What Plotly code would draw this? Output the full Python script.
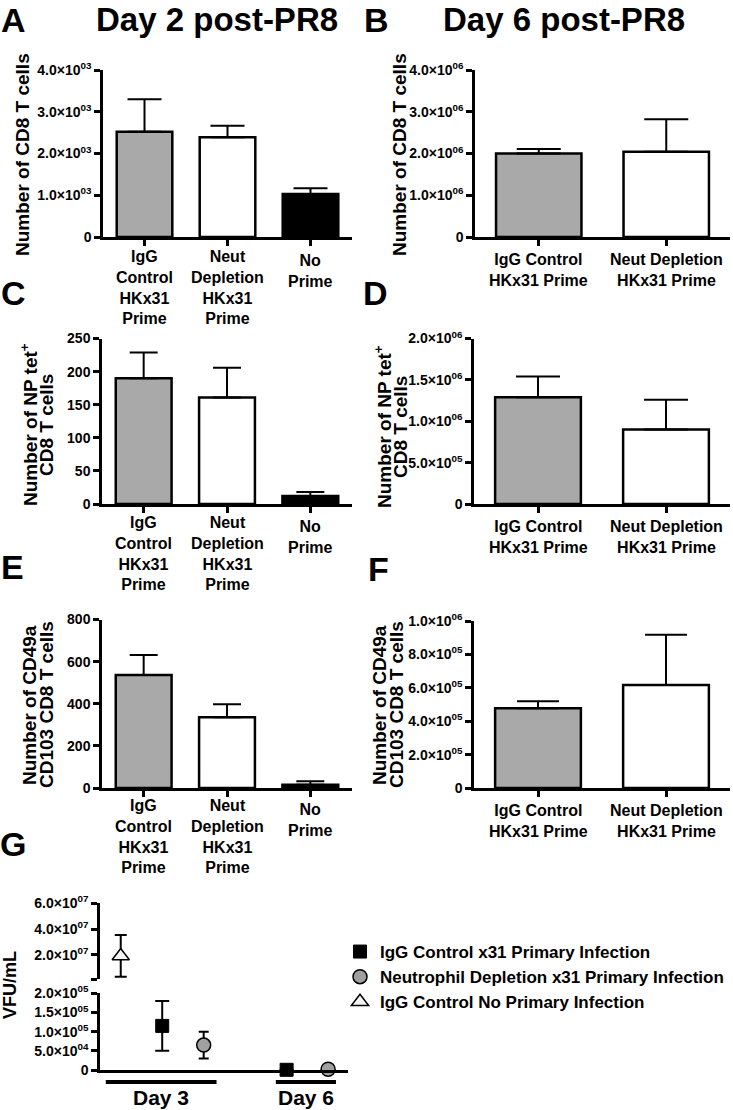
import plotly.graph_objects as go

W, H = 733, 1110
FONT = "Liberation Sans, Arial, Helvetica, sans-serif"

# ---------------- data ----------------
day2_categories = ["IgG<br>Control<br>HKx31<br>Prime", "Neut<br>Depletion<br>HKx31<br>Prime", "No<br>Prime"]
day6_categories = ["IgG Control<br>HKx31 Prime", "Neut Depletion<br>HKx31 Prime"]
day2_colors = ["#a9a9a9", "#ffffff", "#000000"]
day6_colors = ["#a9a9a9", "#ffffff"]

# panel A: Number of CD8 T cells, day 2
a_mean = [2520, 2390, 1030]
a_err_top = [3300, 2665, 1165]
a_ticks = [0, 1000, 2000, 3000, 4000]
a_ticktext = ["0", "1.0×10<sup>03</sup>", "2.0×10<sup>03</sup>", "3.0×10<sup>03</sup>", "4.0×10<sup>03</sup>"]

# panel B: Number of CD8 T cells, day 6
b_mean = [2.00e6, 2.04e6]
b_err_top = [2.11e6, 2.82e6]
b_ticks = [0, 1e6, 2e6, 3e6, 4e6]
b_ticktext = ["0", "1.0×10<sup>06</sup>", "2.0×10<sup>06</sup>", "3.0×10<sup>06</sup>", "4.0×10<sup>06</sup>"]

# panel C: NP tet+ CD8 T cells, day 2
c_mean = [190, 161, 12]
c_err_top = [229, 206, 18]
c_ticks = [0, 50, 100, 150, 200, 250]
c_ticktext = ["0", "50", "100", "150", "200", "250"]

# panel D: NP tet+ CD8 T cells, day 6
d_mean = [1.29e6, 0.90e6]
d_err_top = [1.54e6, 1.26e6]
d_ticks = [0, 5e5, 1e6, 1.5e6, 2e6]
d_ticktext = ["0", "5.0×10<sup>05</sup>", "1.0×10<sup>06</sup>", "1.5×10<sup>06</sup>", "2.0×10<sup>06</sup>"]

# panel E: CD49a CD103 CD8 T cells, day 2
e_mean = [536, 336, 16]
e_err_top = [631, 398, 32]
e_ticks = [0, 200, 400, 600, 800]
e_ticktext = ["0", "200", "400", "600", "800"]

# panel F: CD49a CD103 CD8 T cells, day 6
f_mean = [0.478e6, 0.617e6]
f_err_top = [0.520e6, 0.918e6]
f_ticks = [0, 2e5, 4e5, 6e5, 8e5, 1e6]
f_ticktext = ["0", "2.0×10<sup>05</sup>", "4.0×10<sup>05</sup>", "6.0×10<sup>05</sup>",
              "8.0×10<sup>05</sup>", "1.0×10<sup>06</sup>"]

# panel G: VFU/mL
g_days = ["Day 3", "Day 6"]
g_series = ["IgG Control x31 Primary Infection",
            "Neutrophil Depletion x31 Primary Infection",
            "IgG Control No Primary Infection"]
g_sq_mean = [1.15e5, 500]
g_sq_sd = [6.5e4, 0]
g_ci_mean = [6.5e4, 2000]
g_ci_sd = [3.5e4, 1500]
g_tri_mean = [1.92e7, None]
g_tri_sd = [1.62e7, None]
g_upper_ticks = [2e7, 4e7, 6e7]
g_upper_ticktext = ["2.0×10<sup>07</sup>", "4.0×10<sup>07</sup>", "6.0×10<sup>07</sup>"]
g_lower_ticks = [0, 5e4, 1e5, 1.5e5, 2e5]
g_lower_ticktext = ["0", "5.0×10<sup>04</sup>", "1.0×10<sup>05</sup>", "1.5×10<sup>05</sup>", "2.0×10<sup>05</sup>"]

# ---------------- layout helpers ----------------
def xd(l, r):
    return [l / W, r / W]

def yd(t, b):
    return [1 - b / H, 1 - t / H]

def px(x):
    return x / W

def py(y):
    return 1 - y / H

TICK_SIZE = 14

fig = go.Figure()
layout = dict(
    width=W, height=H, margin=dict(l=0, r=0, t=0, b=0, autoexpand=False),
    paper_bgcolor="white", plot_bgcolor="white",
    font=dict(family=FONT, color="black", weight="bold"),
    showlegend=True,
)

axis_common = dict(showline=True, linewidth=2.5, linecolor="black", ticks="outside",
                   ticklen=6, tickwidth=2.5, tickcolor="black", showgrid=False,
                   zeroline=False, fixedrange=True, automargin=False)

ann = []

def add_text(text, x, y, size, angle=0, xref="paper", yanchor="middle"):
    ann.append(dict(text=text, x=px(x) if xref == "paper" else x, y=py(y), xref=xref,
                    yref="paper", xanchor="center", yanchor=yanchor, showarrow=False,
                    textangle=angle,
                    font=dict(size=size, family=FONT, weight="bold", color="black")))

panels = [
    # idx, cats, colors, mean, errtop, ticks, ticktext, ymax, xdom, ydom, capw, label offsets
    (1, day2_categories, day2_colors, a_mean, a_err_top, a_ticks, a_ticktext, 4000, (103, 352), (70, 237), 17, [9, 9, 13]),
    (2, day6_categories, day6_colors, b_mean, b_err_top, b_ticks, b_ticktext, 4e6, (475, 730), (70, 237), 22, [12, 12]),
    (3, day2_categories, day2_colors, c_mean, c_err_top, c_ticks, c_ticktext, 250, (102, 352), (338.5, 504), 14, [8, 8, 12]),
    (4, day6_categories, day6_colors, d_mean, d_err_top, d_ticks, d_ticktext, 2e6, (474, 730), (338.5, 504), 22, [12, 12]),
    (5, day2_categories, day2_colors, e_mean, e_err_top, e_ticks, e_ticktext, 800, (102, 352), (619.5, 788), 14, [7, 7, 11]),
    (6, day6_categories, day6_colors, f_mean, f_err_top, f_ticks, f_ticktext, 1e6, (474, 730), (621, 788), 21, [12, 12]),
]

for idx, cats, cols, mean, errtop, ticks, ttext, ymax, xdom, ydom, capw, offs in panels:
    sfx = "" if idx == 1 else str(idx)
    fig.add_trace(go.Bar(
        x=cats, y=mean, xaxis="x" + sfx, yaxis="y" + sfx, width=0.67,
        marker=dict(color=cols, line=dict(color="black", width=2.5)),
        error_y=dict(type="data", symmetric=False,
                     array=[t - m for t, m in zip(errtop, mean)],
                     arrayminus=[0] * len(mean),
                     color="black", thickness=2, width=capw),
        showlegend=False, hoverinfo="skip",
    ))
    layout["xaxis" + sfx] = dict(axis_common, domain=xd(*xdom), anchor="y" + sfx,
                                 type="category", range=[-0.5, len(cats) - 0.5],
                                 showticklabels=False)
    layout["yaxis" + sfx] = dict(axis_common, domain=yd(*ydom), anchor="x" + sfx,
                                 range=[0, ymax], tickvals=ticks, ticktext=ttext,
                                 tickfont=dict(size=TICK_SIZE, family=FONT, weight="bold"))
    # category labels, top-aligned under the axis
    for cat, off in zip(cats, offs):
        add_text(cat, cat, ydom[1] + off, 16, xref="x" + sfx, yanchor="top")

# ---- panel G ----
g_slot = {"tri": 0, "sq": 1, "ci": 2}
g_base = [0, 3]
upper_bottom = 6e7 - (979.3 - 903.3) / 25.8 * 2e7

sq_x = [b + g_slot["sq"] for b in g_base]
ci_x = [b + g_slot["ci"] for b in g_base]
tri_x = [b + g_slot["tri"] for b in g_base]

fig.add_trace(go.Scatter(
    x=sq_x, y=g_sq_mean, xaxis="x8", yaxis="y8", mode="markers", name=g_series[0],
    marker=dict(symbol="square", size=13, color="black", line=dict(color="black", width=1)),
    error_y=dict(type="data", array=g_sq_sd, color="black", thickness=2, width=7),
    cliponaxis=False,
))
fig.add_trace(go.Scatter(
    x=ci_x, y=g_ci_mean, xaxis="x8", yaxis="y8", mode="markers", name=g_series[1],
    marker=dict(symbol="circle", size=14, color="#a0a0a0", line=dict(color="black", width=1.5)),
    error_y=dict(type="data", array=g_ci_sd, color="black", thickness=2, width=5),
    cliponaxis=False,
))
fig.add_trace(go.Scatter(
    x=tri_x, y=g_tri_mean, xaxis="x7", yaxis="y7", mode="markers", name=g_series[2],
    marker=dict(symbol="triangle-up", size=15, color="#f4f4f4", line=dict(color="black", width=1.5)),
    error_y=dict(type="data", array=g_tri_sd, color="black", thickness=2, width=6),
    cliponaxis=False,
))

g_xrange = [-0.5, 5.48]
layout["xaxis7"] = dict(domain=xd(100, 348), anchor="y7", range=g_xrange, visible=False,
                        fixedrange=True, automargin=False)
layout["yaxis7"] = dict(axis_common, domain=yd(903.3, 979.3), anchor="x7",
                        range=[upper_bottom, 6e7],
                        tickvals=[upper_bottom] + g_upper_ticks,
                        ticktext=[""] + g_upper_ticktext,
                        tickfont=dict(size=TICK_SIZE, family=FONT, weight="bold"))
layout["xaxis8"] = dict(domain=xd(100, 348), anchor="y8", range=g_xrange, showline=True,
                        linewidth=2.5, linecolor="black", ticks="", showticklabels=False,
                        showgrid=False, zeroline=False, fixedrange=True, automargin=False)
layout["yaxis8"] = dict(axis_common, domain=yd(993.3, 1070), anchor="x8",
                        range=[0, 2e5], tickvals=g_lower_ticks, ticktext=g_lower_ticktext,
                        tickfont=dict(size=TICK_SIZE, family=FONT, weight="bold"))

layout["legend"] = dict(x=px(340), y=py(934), xanchor="left", yanchor="top",
                        font=dict(size=17, family=FONT, weight="bold", color="black"),
                        bgcolor="rgba(0,0,0,0)", tracegroupgap=0, itemwidth=30)

# group bars under day labels
g_group_spans = [(-0.36, 2.31), (3.74, 5.19)]
shapes = []
for (x0, x1) in g_group_spans:
    shapes.append(dict(type="line", xref="x8", yref="paper", x0=x0, x1=x1,
                       y0=py(1082), y1=py(1082), line=dict(color="black", width=4)))
layout["shapes"] = shapes

# ---------------- annotations ----------------
# panel letters
for letter, x, y in [("A", 13, 20), ("B", 376, 20), ("C", 13, 293), ("D", 375, 293),
                     ("E", 12, 567), ("F", 378, 569), ("G", 13, 844)]:
    add_text(letter, x, y, 34)

add_text("Day 2 post-PR8", 216.5, 19, 33)
add_text("Day 6 post-PR8", 564, 19, 33)

# y-axis titles (rotated)
add_text("Number of CD8 T cells", 22, 155, 19, -90)
add_text("Number of CD8 T cells", 399, 155, 19, -90)
add_text("Number of NP tet<sup>+</sup>", 29, 425, 19, -90)
add_text("CD8 T cells", 46, 425, 19, -90)
add_text("Number of NP tet<sup>+</sup>", 383, 427, 19, -90)
add_text("CD8 T cells", 400, 427, 19, -90)
add_text("Number of CD49a", 29, 705, 19, -90)
add_text("CD103 CD8 T cells", 46, 705, 19, -90)
add_text("Number of CD49a", 379, 705, 19, -90)
add_text("CD103 CD8 T cells", 396, 705, 19, -90)
add_text("VFU/mL", 10, 985, 18, -90)

# day labels in G
for day, (x0, x1) in zip(g_days, g_group_spans):
    ann.append(dict(text=day, x=(x0 + x1) / 2, y=py(1097), xref="x8", yref="paper",
                    xanchor="center", yanchor="middle", showarrow=False,
                    font=dict(size=21, family=FONT, weight="bold", color="black")))

layout["annotations"] = ann
fig.update_layout(**layout)
fig.write_html("out.html",
               config={"displayModeBar": False},
               post_script="document.body.style.margin='0';document.body.style.overflow='hidden';")
